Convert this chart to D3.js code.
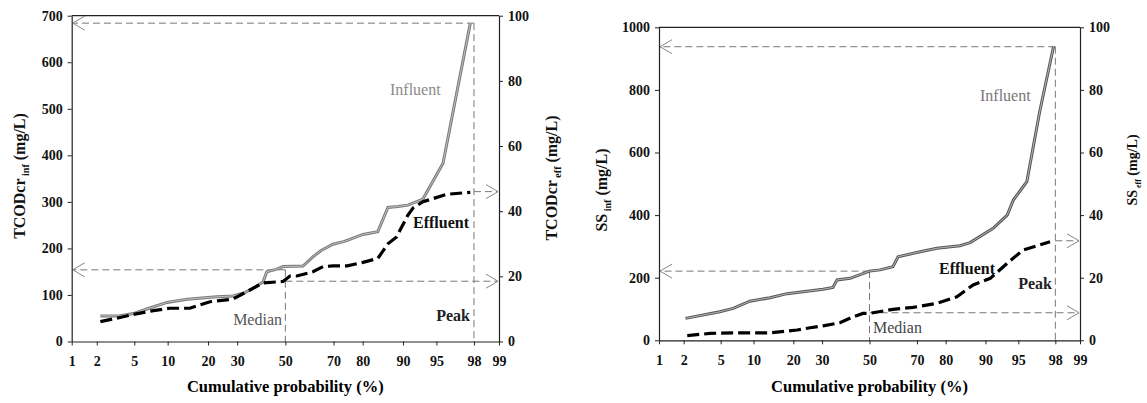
<!DOCTYPE html>
<html>
<head>
<meta charset="utf-8">
<script src="https://cdn.jsdelivr.net/npm/d3@7"></script>
<style>
  body { margin: 0; background: #fff; }
  svg { display: block; }
</style>
</head>
<body>
<svg id="chart"></svg>
<script>
// probability axis ticks (%)
var probTicks = [1, 2, 5, 10, 20, 30, 50, 70, 80, 90, 95, 98, 99];
var codInfTicks = [0, 100, 200, 300, 400, 500, 600, 700];
var ssInfTicks = [0, 200, 400, 600, 800, 1000];
var effTicks = [0, 20, 40, 60, 80, 100];

// TCODcr influent (left axis) - cumulative probability (%) and value (mg/L)
var codInfP = [2.2, 3.5, 4.9, 7, 9.9, 14.2, 22.8, 28.4, 33, 36, 40.4, 42, 46, 49, 57.6, 61.8, 65, 69.8, 74, 80.1, 84.3, 86.8, 89, 90.9, 93.3, 95.7, 97.8];
var codInfV = [55, 55, 60, 72, 84, 91, 96, 98, 105, 114, 128, 150, 155, 161, 162, 182, 195, 209, 215, 230, 236, 288, 290, 293, 306, 383, 684];
// TCODcr effluent (right axis)
var codEffP = [2.2, 3.5, 4.9, 7, 10.4, 14.9, 20.6, 28.4, 35, 40.4, 49, 52, 55, 61.8, 66, 69.8, 75, 80.1, 84.3, 86.8, 88.7, 90.9, 91.8, 93.3, 96.1, 97.8];
var codEffV = [6.1, 7.3, 8.3, 9.3, 10.2, 10.2, 12.2, 13, 15.8, 18, 18.4, 20.1, 20.1, 21.4, 23, 23.2, 23.2, 24.3, 25.5, 30, 32.1, 38.8, 41, 42.9, 45.2, 45.8];
// SS influent (left axis)
var ssInfP = [2.1, 4.9, 6.6, 9.3, 13.6, 18.1, 23.1, 30.4, 34.3, 36, 41.5, 50, 54.6, 60.2, 62.4, 71.2, 77.2, 84.1, 86.7, 91.4, 93.6, 94.4, 95.9, 97.0, 97.9];
var ssInfV = [70, 91, 102, 125, 136, 149, 155, 163, 169, 193, 198, 221, 225, 235, 267, 283, 294, 302, 312, 358, 400, 448, 507, 730, 938];
// SS effluent (right axis)
var ssEffP = [2.2, 3.9, 7.2, 13.6, 21.2, 25.6, 30.4, 37.2, 42.8, 47.1, 50, 60.2, 68.5, 77.2, 83.3, 87.4, 90.9, 93.6, 95.5, 97.7];
var ssEffV = [1.5, 2.2, 2.4, 2.4, 3.3, 4.0, 4.6, 5.6, 7.5, 8.6, 8.6, 9.9, 10.5, 11.8, 13.9, 17.7, 19.8, 24.6, 28.8, 31.5];

// median / peak values: [influent median, influent peak, effluent median, effluent peak]
var codGuide = [154, 684, 18.5, 46];
var ssGuide = [221, 938, 8.8, 31.8];
var medianP = 50, peakP = 98;

var FONT = "'Liberation Serif', 'DejaVu Serif', serif";
var svg = d3.select("#chart").attr("width", 1147).attr("height", 403)
  .style("font-family", FONT);
svg.append("rect").attr("width", 1147).attr("height", 403).attr("fill", "#fff");

// inverse normal CDF (Acklam)
function probit(p) {
  var a = [-39.69683028665376, 220.9460984245205, -275.9285104469687, 138.3577518672690, -30.66479806614716, 2.506628277459239];
  var b = [-54.47609879822406, 161.5858368580409, -155.6989798598866, 66.80131188771972, -13.28068155288572];
  var c = [-0.007784894002430293, -0.3223964580411365, -2.400758277161838, -2.549732539343734, 4.374664141464968, 2.938163982698783];
  var d = [0.007784695709041462, 0.3224671290700398, 2.445134137142996, 3.754408661907416];
  var q, r;
  if (p < 0.02425) {
    q = Math.sqrt(-2 * Math.log(p));
    return (((((c[0] * q + c[1]) * q + c[2]) * q + c[3]) * q + c[4]) * q + c[5]) / ((((d[0] * q + d[1]) * q + d[2]) * q + d[3]) * q + 1);
  }
  if (p > 1 - 0.02425) return -probit(1 - p);
  q = p - 0.5; r = q * q;
  return (((((a[0] * r + a[1]) * r + a[2]) * r + a[3]) * r + a[4]) * r + a[5]) * q / (((((b[0] * r + b[1]) * r + b[2]) * r + b[3]) * r + b[4]) * r + 1);
}

drawPanel({
  x0: 71.7, x1: 499, top: 15.7, bot: 341.5,
  infMax: 700, infTicks: codInfTicks,
  infP: codInfP, infV: codInfV, effP: codEffP, effV: codEffV, guide: codGuide,
  name: "TCODcr", leftTitle: [19, 176, 16], rightTitle: [551, 178, 16],
  infColor: "#7a7a7a",
  notes: [
    { t: "Influent", x: 390, y: 95, fill: "#8a8a8a", w: "normal" },
    { t: "Effluent", x: 413, y: 228, fill: "#111", w: "bold" },
    { t: "Peak", x: 470, y: 321, fill: "#222", w: "bold", anchor: "end" },
    { t: "Median", x: 282, y: 325, fill: "#555", w: "normal", anchor: "end" }
  ]
});

drawPanel({
  x0: 659, x1: 1080, top: 27.3, bot: 340.3,
  infMax: 1000, infTicks: ssInfTicks,
  infP: ssInfP, infV: ssInfV, effP: ssEffP, effV: ssEffV, guide: ssGuide,
  name: "SS", leftTitle: [601, 190, 16], rightTitle: [1132, 170, 14],
  infColor: "#555",
  notes: [
    { t: "Influent", x: 980, y: 101, fill: "#777", w: "normal" },
    { t: "Effluent", x: 939, y: 274, fill: "#111", w: "bold" },
    { t: "Peak", x: 1052, y: 289, fill: "#222", w: "bold", anchor: "end" },
    { t: "Median", x: 873, y: 333, fill: "#444", w: "normal" }
  ]
});

function drawPanel(cfg) {
  var zScale = d3.scaleLinear().domain([probit(0.01), probit(0.99)]).range([cfg.x0, cfg.x1]);
  var x = function (p) { return zScale(probit(p / 100)); };
  var yInf = d3.scaleLinear().domain([0, cfg.infMax]).range([cfg.bot, cfg.top]);
  var yEff = d3.scaleLinear().domain([0, 100]).range([cfg.bot, cfg.top]);
  var g = svg.append("g");

  // guide lines (median / peak) with open arrowheads
  var guides = g.append("g").attr("stroke", "#777").attr("stroke-width", 1).attr("fill", "none");
  function dash(xa, ya, xb, yb) {
    guides.append("line").attr("x1", xa).attr("y1", ya).attr("x2", xb).attr("y2", yb)
      .attr("stroke-dasharray", "7,4");
  }
  function arrow(xt, yt, dir) {
    guides.append("path")
      .attr("d", "M" + (xt - dir * 12) + "," + (yt - 7) + "L" + xt + "," + yt + "L" + (xt - dir * 12) + "," + (yt + 7))
      .attr("stroke", "#888");
  }
  var gd = cfg.guide;
  dash(x(peakP), yInf(gd[1]), cfg.x0 + 2, yInf(gd[1]));
  arrow(cfg.x0 + 1, yInf(gd[1]), -1);
  dash(x(peakP), yInf(gd[1]), x(peakP), cfg.bot);
  dash(x(medianP), yInf(gd[0]), cfg.x0 + 2, yInf(gd[0]));
  arrow(cfg.x0 + 1, yInf(gd[0]), -1);
  dash(x(medianP), yInf(gd[0]), x(medianP), cfg.bot);
  dash(x(medianP), yEff(gd[2]), cfg.x1 - 2, yEff(gd[2]));
  arrow(cfg.x1 - 1, yEff(gd[2]), 1);
  dash(x(peakP), yEff(gd[3]), cfg.x1 - 2, yEff(gd[3]));
  arrow(cfg.x1 - 1, yEff(gd[3]), 1);

  // influent line (solid gray, slightly hollow like the scan)
  var infLine = d3.line().x(function (d) { return x(d[0]); }).y(function (d) { return yInf(d[1]); });
  var infData = d3.zip(cfg.infP, cfg.infV);
  g.append("path").datum(infData).attr("d", infLine)
    .attr("fill", "none").attr("stroke", cfg.infColor).attr("stroke-width", 3);
  g.append("path").datum(infData).attr("d", infLine)
    .attr("fill", "none").attr("stroke", "#d0d0d0").attr("stroke-width", 0.8);

  // effluent line (thick black dashes)
  var effLine = d3.line().x(function (d) { return x(d[0]); }).y(function (d) { return yEff(d[1]); });
  g.append("path").datum(d3.zip(cfg.effP, cfg.effV)).attr("d", effLine)
    .attr("fill", "none").attr("stroke", "#000").attr("stroke-width", 3.2)
    .attr("stroke-dasharray", "12,5");

  // axes
  function styleAxis(a) {
    a.attr("font-family", null).attr("font-size", null);
    a.style("font-family", FONT).style("font-size", "14px").style("font-weight", "bold");
    a.select(".domain").attr("stroke", "#222").attr("stroke-width", 1.2);
    a.selectAll(".tick line").attr("stroke", "#222");
    a.selectAll(".tick text").attr("fill", "#111");
  }
  var zTicks = probTicks.map(function (p) { return probit(p / 100); });
  g.append("g").attr("transform", "translate(0," + cfg.bot + ")")
    .call(d3.axisBottom(zScale).tickValues(zTicks)
      .tickFormat(function (d, i) { return probTicks[i]; })
      .tickSize(4).tickSizeOuter(0).tickPadding(11))
    .call(styleAxis);
  g.append("g").attr("transform", "translate(" + cfg.x0 + ",0)")
    .call(d3.axisLeft(yInf).tickValues(cfg.infTicks).tickFormat(d3.format("d"))
      .tickSize(4).tickSizeOuter(0).tickPadding(5))
    .call(styleAxis);
  g.append("g").attr("transform", "translate(" + cfg.x1 + ",0)")
    .call(d3.axisRight(yEff).tickValues(effTicks).tickFormat(d3.format("d"))
      .tickSize(4).tickSizeOuter(0).tickPadding(5))
    .call(styleAxis);
  g.append("line").attr("x1", cfg.x0).attr("x2", cfg.x1).attr("y1", cfg.top).attr("y2", cfg.top)
    .attr("stroke", "#222").attr("stroke-width", 1.2);

  // axis titles
  g.append("text").attr("x", (cfg.x0 + cfg.x1) / 2).attr("y", 392)
    .attr("text-anchor", "middle")
    .style("font-family", FONT).style("font-size", "16.5px").style("font-weight", "bold")
    .text("Cumulative probability (%)");
  function yTitle(pos, sub) {
    var t = g.append("text")
      .attr("transform", "translate(" + pos[0] + "," + pos[1] + ") rotate(-90)")
      .attr("text-anchor", "middle").attr("dy", "0.35em").attr("fill", "#111")
      .style("font-family", FONT).style("font-size", pos[2] + "px").style("font-weight", "bold");
    t.append("tspan").text(cfg.name);
    t.append("tspan").style("font-size", Math.round(pos[2] * 0.6) + "px").attr("dy", 4).text(" " + sub);
    t.append("tspan").attr("dy", -4).text(" (mg/L)");
  }
  yTitle(cfg.leftTitle, "inf");
  yTitle(cfg.rightTitle, "eff");

  // annotations
  cfg.notes.forEach(function (n) {
    g.append("text").attr("x", n.x).attr("y", n.y)
      .attr("text-anchor", n.anchor || "start").attr("fill", n.fill)
      .style("font-family", FONT).style("font-size", "16px").style("font-weight", n.w)
      .text(n.t);
  });
}
</script>
</body>
</html>
